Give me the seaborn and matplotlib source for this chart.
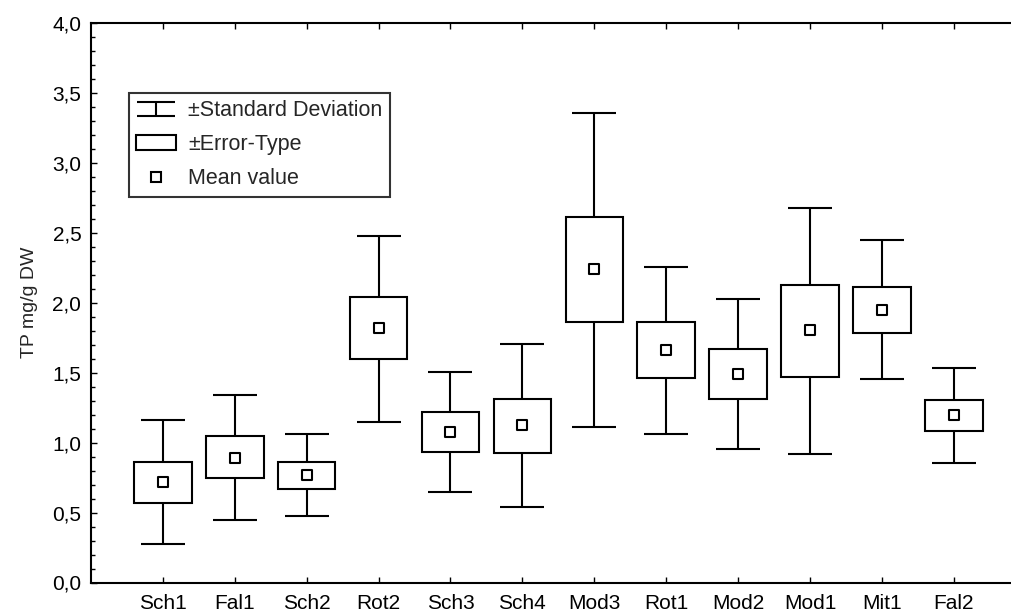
import numpy as np
import pandas as pd
import seaborn as sns
import matplotlib.pyplot as plt
from matplotlib.path import Path
from matplotlib.lines import Line2D
from matplotlib.patches import Patch
from matplotlib.ticker import MultipleLocator, FuncFormatter

# TP (mg/g DW) je Standort
sites = ['Sch1', 'Fal1', 'Sch2', 'Rot2', 'Sch3', 'Sch4',
         'Mod3', 'Rot1', 'Mod2', 'Mod1', 'Mit1', 'Fal2']
mean_tp = [0.715, 0.89, 0.766, 1.817, 1.074, 1.124,
           2.238, 1.659, 1.492, 1.803, 1.951, 1.196]
se_hi = [0.862, 1.045, 0.862, 2.04, 1.217, 1.315,
         2.61, 1.862, 1.667, 2.13, 2.116, 1.308]
se_lo = [0.565, 0.744, 0.668, 1.597, 0.93, 0.928,
         1.865, 1.461, 1.31, 1.468, 1.786, 1.084]
sd_hi = [1.16, 1.344, 1.062, 2.477, 1.502, 1.703,
         3.356, 2.254, 2.025, 2.675, 2.446, 1.535]
sd_lo = [0.274, 0.448, 0.477, 1.148, 0.647, 0.541,
         1.112, 1.062, 0.957, 0.919, 1.454, 0.854]

df = pd.DataFrame({'site': sites, 'mean': mean_tp, 'se_hi': se_hi, 'se_lo': se_lo,
                   'sd_hi': sd_hi, 'sd_lo': sd_lo})
df['pos'] = np.arange(len(df))

sns.set_style('ticks')
plt.rcParams['font.family'] = ['Liberation Sans', 'DejaVu Sans']

fig = plt.figure(figsize=(10.12, 6.14), dpi=100)
ax = fig.add_axes([91 / 1012, 31.5 / 614, 921 / 1012, 559.5 / 614])

lw = 1.5
# Standardabweichung (Whisker)
ax.errorbar(df['pos'], df['mean'],
            yerr=[df['mean'] - df['sd_lo'], df['sd_hi'] - df['mean']],
            fmt='none', ecolor='black', elinewidth=lw, capsize=15.8, capthick=lw, zorder=1)
# Box = Error-Type
ax.bar(df['pos'], df['se_hi'] - df['se_lo'], bottom=df['se_lo'], width=0.8,
       facecolor='white', edgecolor='black', linewidth=lw, zorder=2)
# Mittelwert
sns.scatterplot(data=df, x='pos', y='mean', marker='s', s=55, facecolors='white',
                edgecolor='black', linewidth=lw, zorder=3, ax=ax, legend=False)

ax.set_xlim(-1, 11.81)
ax.set_ylim(0, 4.0)
ax.set_xticks(df['pos'], df['site'])
ax.yaxis.set_major_locator(MultipleLocator(0.5))
ax.yaxis.set_minor_locator(MultipleLocator(0.1))
ax.yaxis.set_major_formatter(FuncFormatter(lambda v, p: f'{v:.1f}'.replace('.', ',')))
ax.tick_params(axis='both', which='both', direction='in', top=True, right=False,
               colors='black', labelsize=15, width=1)
ax.tick_params(axis='both', which='major', length=4)
ax.tick_params(axis='y', which='minor', length=3)
ax.tick_params(axis='x', pad=8)
ax.tick_params(axis='y', pad=7)
ax.spines['right'].set_visible(False)
for s in ['left', 'top', 'bottom']:
    ax.spines[s].set_linewidth(lw)
    ax.spines[s].set_color('black')
ax.set_xlabel('')
ax.set_ylabel('TP mg/g DW', fontsize=14, labelpad=10)

# Legende
ibeam = Path([(-1, 0.38), (1, 0.38), (0, 0.38), (0, -0.38), (-1, -0.38), (1, -0.38)],
             [Path.MOVETO, Path.LINETO, Path.MOVETO, Path.LINETO, Path.MOVETO, Path.LINETO])
h_sd = Line2D([], [], ls='none', marker=ibeam, markersize=28, markeredgecolor='black',
              markerfacecolor='none', markeredgewidth=lw)
h_se = Patch(facecolor='white', edgecolor='black', linewidth=lw)
h_mean = Line2D([], [], ls='none', marker='s', markersize=7, markerfacecolor='white',
                markeredgecolor='black', markeredgewidth=lw)
leg = ax.legend([h_sd, h_se, h_mean], ['±Standard Deviation', '±Error-Type', 'Mean value'],
                loc='upper left', bbox_to_anchor=(0.041, 0.875), borderaxespad=0,
                fontsize=15.5, frameon=True, fancybox=False, shadow=False,
                handlelength=1.85, handletextpad=0.55, labelspacing=0.6, borderpad=0.35)
leg.get_frame().set_edgecolor('black')
leg.get_frame().set_linewidth(lw)

fig.savefig('out.png', dpi=100)
